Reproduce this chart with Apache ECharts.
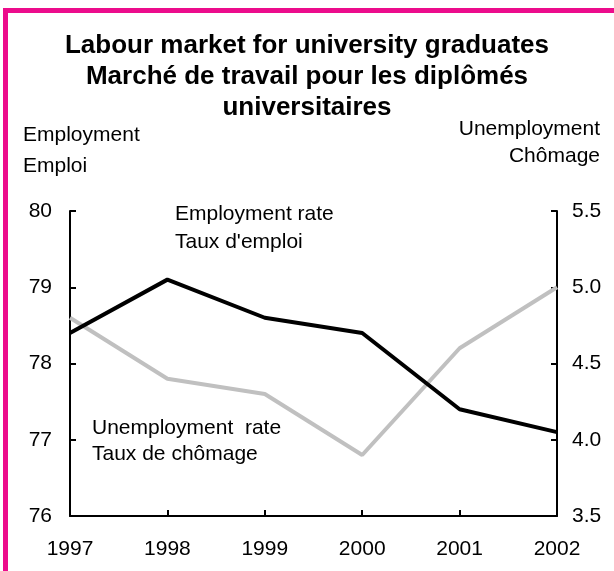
<!DOCTYPE html>
<html>
<head>
<meta charset="utf-8">
<script src="https://cdn.jsdelivr.net/npm/echarts@6/dist/echarts.min.js"></script>
<style>
  html, body { margin: 0; padding: 0; background: #fff; }
  #chart { width: 614px; height: 571px; }
</style>
</head>
<body>
<div id="chart"></div>
<script>
// Years on the horizontal axis
const years = ['1997', '1998', '1999', '2000', '2001', '2002'];
// Employment rate of university graduates (%), left axis
const employmentRate = [78.4, 79.1, 78.6, 78.4, 77.4, 77.1];
// Unemployment rate of university graduates (%), right axis
const unemploymentRate = [4.8, 4.4, 4.3, 3.9, 4.6, 5.0];

const FONT = '"Liberation Sans", Arial, Helvetica, sans-serif';
const PINK = '#ec0c8c';
const TXT_SIZE = 21;

const chart = echarts.init(document.getElementById('chart'), null, { renderer: 'canvas' });

const txt = (left, top, text, align) => ({
  type: 'text',
  left: align === 'right' ? undefined : left,
  right: align === 'right' ? left : undefined,
  top: top,
  style: {
    text: text,
    font: TXT_SIZE + 'px ' + FONT,
    fill: '#000',
    textAlign: align || 'left'
  }
});

chart.setOption({
  animation: false,
  backgroundColor: '#fff',
  title: {
    text: 'Labour market for university graduates\nMarché de travail pour les diplômés\nuniversitaires',
    left: 'center',
    top: 25,
    textStyle: {
      fontFamily: FONT,
      fontSize: 26,
      fontWeight: 'bold',
      color: '#000',
      lineHeight: 31
    }
  },
  grid: { left: 70, right: 57, top: 211, bottom: 55, containLabel: false },
  xAxis: {
    type: 'category',
    data: years,
    boundaryGap: false,
    axisLine: { lineStyle: { color: '#000', width: 2 } },
    axisTick: { inside: true, length: 6, lineStyle: { color: '#000', width: 2 } },
    axisLabel: { fontFamily: FONT, fontSize: TXT_SIZE, color: '#000', margin: 23 },
    splitLine: { show: false }
  },
  yAxis: [
    {
      type: 'value',
      position: 'left',
      min: 76, max: 80, interval: 1,
      axisLine: { show: true, lineStyle: { color: '#000', width: 2 } },
      axisTick: { show: true, inside: true, length: 6, lineStyle: { color: '#000', width: 2 } },
      axisLabel: { fontFamily: FONT, fontSize: TXT_SIZE, color: '#000', margin: 18 },
      splitLine: { show: false }
    },
    {
      type: 'value',
      position: 'right',
      min: 3.5, max: 5.5, interval: 0.5,
      axisLine: { show: true, lineStyle: { color: '#000', width: 2 } },
      axisTick: { show: true, inside: true, length: 6, lineStyle: { color: '#000', width: 2 } },
      axisLabel: {
        fontFamily: FONT, fontSize: TXT_SIZE, color: '#000', margin: 15,
        formatter: v => v.toFixed(1)
      },
      splitLine: { show: false }
    }
  ],
  series: [
    {
      name: 'Unemployment rate',
      type: 'line',
      yAxisIndex: 1,
      data: unemploymentRate,
      symbol: 'none',
      lineStyle: { color: '#c0c0c0', width: 4 },
      z: 2
    },
    {
      name: 'Employment rate',
      type: 'line',
      yAxisIndex: 0,
      data: employmentRate,
      symbol: 'none',
      lineStyle: { color: '#000', width: 4 },
      z: 3
    }
  ],
  graphic: [
    // frame: left and top edges
    {
      type: 'polyline',
      shape: { points: [[5.5, 571], [5.5, 10.5], [614, 10.5]] },
      style: { stroke: PINK, lineWidth: 5, fill: null },
      silent: true
    },
    txt(23, 125, 'Employment'),
    txt(23, 156, 'Emploi'),
    txt(14, 119, 'Unemployment', 'right'),
    txt(14, 146, 'Chômage', 'right'),
    txt(175, 204, 'Employment rate'),
    txt(175, 232, "Taux d'emploi"),
    txt(92, 418, 'Unemployment  rate'),
    txt(92, 444, 'Taux de chômage')
  ]
});
</script>
</body>
</html>
